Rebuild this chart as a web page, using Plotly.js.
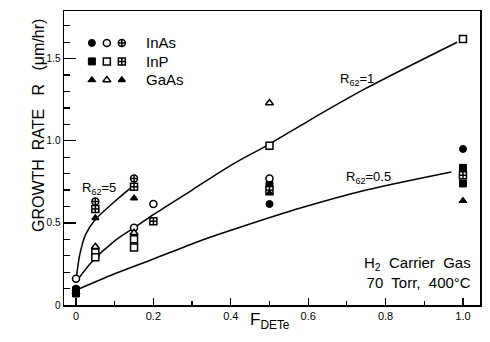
<!DOCTYPE html>
<html>
<head>
<meta charset="utf-8">
<script src="https://cdn.plot.ly/plotly-3.0.1.min.js"></script>
<style>html,body{margin:0;padding:0;background:#fff;}#chart{width:490px;height:342px;}</style>
</head>
<body>
<div id="chart"></div>
<script>
// ---- data ----
// curves (R62 ratios)
const curve5X  = [0, 0.01, 0.025, 0.05, 0.10, 0.15];
const curve5Y  = [0.15, 0.31, 0.43, 0.52, 0.63, 0.73];
const curve1X  = [0, 0.04, 0.10, 0.15, 0.20, 0.30, 0.40, 0.50, 0.60, 0.75, 0.985];
const curve1Y  = [0.14, 0.26, 0.39, 0.47, 0.55, 0.70, 0.85, 0.98, 1.12, 1.32, 1.60];
const curve05X = [0, 0.10, 0.20, 0.32, 0.42, 0.58, 0.75, 0.97];
const curve05Y = [0.09, 0.19, 0.28, 0.39, 0.47, 0.59, 0.70, 0.81];

// InAs
const inasClosedX = [0, 0.5, 1.0];
const inasClosedY = [0.10, 0.615, 0.95];
const inasOpenX   = [0, 0.15, 0.2, 0.5];
const inasOpenY   = [0.16, 0.47, 0.615, 0.77];
const inasCrossX  = [0.05, 0.15];
const inasCrossY  = [0.63, 0.77];
// InP
const inpClosedX = [0, 0, 0.5, 1.0, 1.0];
const inpClosedY = [0.09, 0.07, 0.73, 0.835, 0.74];
const inpOpenX   = [0.05, 0.05, 0.15, 0.15, 0.5, 1.0];
const inpOpenY   = [0.32, 0.29, 0.40, 0.35, 0.97, 1.62];
const inpCrossX  = [0.05, 0.15, 0.2, 0.5, 1.0];
const inpCrossY  = [0.585, 0.72, 0.51, 0.70, 0.79];
// GaAs
const gaasClosedX = [0, 0.5, 1.0];
const gaasClosedY = [0.08, 0.68, 0.635];
const gaasOpenX   = [0.05, 0.15, 0.5];
const gaasOpenY   = [0.355, 0.44, 1.23];
const gaasCrossX  = [0.05, 0.15];
const gaasCrossY  = [0.53, 0.65];

// legend
const legendNames = ['InAs', 'InP', 'GaAs'];
const legendCols  = [0, 1, 2];

// tick labels
const xTickVals = [0, 0.2, 0.4, 0.6, 0.8, 1.0];
const xTickText = ['0', '0.2', '0.4', '0.6', '0.8', '1.0'];
const yTickVals = [0, 0.5, 1.0, 1.5];
const yTickText = ['0', '0.5', '1.0', '1.5'];

// ---- styles ----
const FONT = 'Liberation Sans, Arial, sans-serif';
const lineStyle = {color: '#000', width: 1.5, shape: 'spline', smoothing: 0.8};
const styles = {
  InAs: {closed: 'circle', open: 'circle', cross: 'circle-cross'},
  InP:  {closed: 'square', open: 'square', cross: 'square-cross'},
  GaAs: {closed: 'triangle-up', open: 'triangle-up', cross: 'triangle-up'}
};
function mk(kind, sym) {
  if (kind === 'closed') return {symbol: sym, size: 7, color: '#000', line: {color: '#000', width: 1}};
  return {symbol: sym, size: 7, color: '#fff', line: {color: '#000', width: 1.5}};
}
function pts(x, y, kind, name) {
  const m = mk(kind, styles[name][kind]);
  if (name === 'GaAs' && kind === 'cross') { m.color = '#000'; m.size = 6; }
  return {x: x, y: y, type: 'scatter', mode: 'markers', marker: m, showlegend: false, hoverinfo: 'skip', cliponaxis: false};
}
const traces = [
  {x: curve5X, y: curve5Y, type: 'scatter', mode: 'lines', line: lineStyle, showlegend: false},
  {x: curve1X, y: curve1Y, type: 'scatter', mode: 'lines', line: lineStyle, showlegend: false},
  {x: curve05X, y: curve05Y, type: 'scatter', mode: 'lines', line: lineStyle, showlegend: false},
  pts(inasClosedX, inasClosedY, 'closed', 'InAs'),
  pts(inasOpenX, inasOpenY, 'open', 'InAs'),
  pts(inasCrossX, inasCrossY, 'cross', 'InAs'),
  pts(inpClosedX, inpClosedY, 'closed', 'InP'),
  pts(inpOpenX, inpOpenY, 'open', 'InP'),
  pts(inpCrossX, inpCrossY, 'cross', 'InP'),
  pts(gaasClosedX, gaasClosedY, 'closed', 'GaAs'),
  pts(gaasOpenX, gaasOpenY, 'open', 'GaAs'),
  pts(gaasCrossX, gaasCrossY, 'cross', 'GaAs')
];
// legend keys on a hidden axis pair
const kinds = ['closed', 'open', 'cross'];
legendNames.forEach((nm, r) => {
  legendCols.forEach((c) => {
    const t = pts([c], [r], kinds[c], nm);
    t.xaxis = 'x2'; t.yaxis = 'y2';
    traces.push(t);
  });
});

const annotations = [
  {x: 0.06, y: 0.71, xref: 'x', yref: 'y', text: 'R<sub>62</sub>=5', showarrow: false, font: {family: FONT, size: 13, color: '#000'}},
  {x: 0.726, y: 1.37, xref: 'x', yref: 'y', text: 'R<sub>62</sub>=1', showarrow: false, font: {family: FONT, size: 13, color: '#000'}},
  {x: 0.757, y: 0.775, xref: 'x', yref: 'y', text: 'R<sub>62</sub>=0.5', showarrow: false, font: {family: FONT, size: 13, color: '#000'}},
  {x: 0.983, y: 0.112, xref: 'paper', yref: 'paper', xanchor: 'right', yanchor: 'middle', align: 'right',
   text: 'H<sub>2</sub>  Carrier  Gas<br>70  Torr,  400°C', showarrow: false, font: {family: FONT, size: 15, color: '#000'}},
  {x: 0.495, y: -0.1, xref: 'paper', yref: 'paper', text: 'F<sub>DETe</sub>', showarrow: false, font: {family: FONT, size: 17, color: '#000'}},
  {x: -0.088, y: 0.612, xref: 'paper', yref: 'paper', textangle: -90, text: 'GROWTH  RATE   R   (μm/hr)', showarrow: false, font: {family: FONT, size: 16, color: '#000'}}
];
legendNames.forEach((nm, r) => {
  annotations.push({x: 0.192, y: r, xref: 'paper', yref: 'y2', xanchor: 'left', text: nm, showarrow: false, font: {family: FONT, size: 15, color: '#000'}});
});

const layout = {
  width: 490, height: 342,
  margin: {l: 64, r: 10, t: 11, b: 37},
  paper_bgcolor: '#fff', plot_bgcolor: '#fff',
  showlegend: false,
  xaxis: {
    range: [-0.031, 1.044], showgrid: false, zeroline: false,
    showline: true, linecolor: '#000', linewidth: 1.5, mirror: true,
    ticks: 'inside', ticklen: 7, tickwidth: 1.3, tickcolor: '#000',
    tickvals: xTickVals, ticktext: xTickText,
    tickfont: {family: FONT, size: 11, color: '#000'},
    minor: {dtick: 0.1, tick0: 0, ticks: 'inside', ticklen: 4, tickwidth: 1.2, tickcolor: '#000'}
  },
  yaxis: {
    range: [0, 1.79], showgrid: false, zeroline: false,
    showline: true, linecolor: '#000', linewidth: 1.5, mirror: true,
    ticks: 'inside', ticklen: 12, tickwidth: 1.3, tickcolor: '#000',
    tickvals: yTickVals, ticktext: yTickText,
    tickfont: {family: FONT, size: 10, color: '#000'},
    minor: {dtick: 0.1, tick0: 0, ticks: 'inside', ticklen: 6, tickwidth: 1.2, tickcolor: '#000'}
  },
  xaxis2: {domain: [0.049, 0.157], range: [-0.5, 2.5], visible: false, anchor: 'y2', fixedrange: true},
  yaxis2: {domain: [0.734, 0.923], range: [2.5, -0.5], visible: false, anchor: 'x2', fixedrange: true},
  annotations: annotations
};
Plotly.newPlot('chart', traces, layout, {staticPlot: true, displayModeBar: false});
</script>
</body>
</html>
